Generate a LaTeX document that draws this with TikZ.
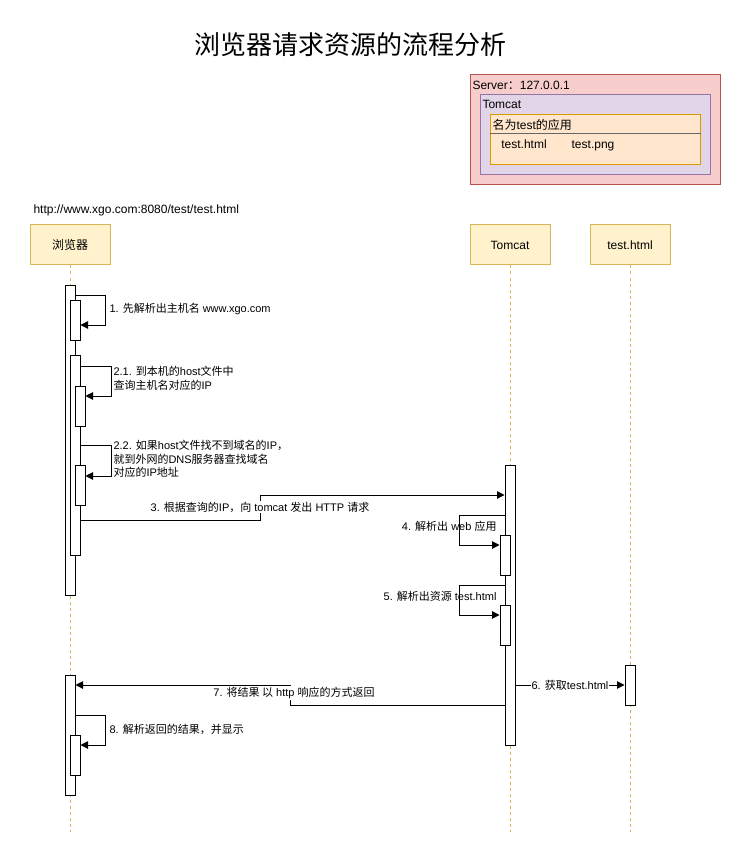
\documentclass[tikz,border=0pt]{standalone}
\usepackage{fontspec}
\setmainfont{Liberation Sans}
\newfontfamily\zh{Noto Sans CJK SC}
\usetikzlibrary{arrows.meta}
\definecolor{headfill}{HTML}{FFF2CC}
\definecolor{headline}{HTML}{D6B656}
\definecolor{srvfill}{HTML}{F8CECC}
\definecolor{srvline}{HTML}{B85450}
\definecolor{tomfill}{HTML}{E1D5E7}
\definecolor{tomline}{HTML}{9673A6}
\definecolor{appfill}{HTML}{FFE6CC}
\definecolor{appline}{HTML}{D79B00}
\definecolor{sepgray}{HTML}{666666}
\begin{document}
\begin{tikzpicture}[x=1pt, y=-1pt, line width=1pt,
		head/.style={draw=headline, fill=headfill, minimum width=80pt, minimum height=40pt, font=\fontsize{12}{14}\selectfont},
		box/.style={minimum width=10pt, inner sep=0pt},
		bar/.style={draw, fill=white, minimum width=10pt, inner sep=0pt},
		life/.style={draw=headline, dash pattern=on 3pt off 3pt},
		msg/.style={-{Triangle[length=7.5pt,width=7.5pt]}},
		txt/.style={inner sep=0pt, font=\fontsize{12}{14}\selectfont},
		lbl/.style={font=\fontsize{11}{14}\selectfont, inner sep=1pt, align=left}]
		
		\useasboundingbox (0,0) rectangle (751,866);
		
		\node[font=\fontsize{26}{30}\selectfont\zh] (title) at (350,45) {浏览器请求资源的流程分析};
		
		% server / tomcat / app
		\node[box, draw=srvline, fill=srvfill, minimum width=250pt, minimum height=110pt] (srv) at (595,130) {};
		\node[txt, anchor=west] (srvlbl) at (472,85) {Server{\zh ：}127.0.0.1};
		\node[box, draw=tomline, fill=tomfill, minimum width=230pt, minimum height=80pt] (tom) at (595,135) {};
		\node[txt, anchor=west] (tomlbl) at (482,104) {Tomcat};
		\node[box, draw=appline, fill=appfill, minimum width=210pt, minimum height=50pt] (app) at (595,140) {};
		\draw[sepgray] (app.west |- 0,134) -- (app.east |- 0,134);
		\node[txt, anchor=west] (applbl) at (492,125) {{\zh 名为}test{\zh 的应用}};
		\node[txt, anchor=base] (f1) at (524,149) {test.html};
		\node[txt, anchor=base] (f2) at (593,149) {test.png};
		
		\node[txt, anchor=west] (url) at (33,210) {http://www.xgo.com:8080/test/test.html};
		
		% lifelines
		\node[head] (hb) at (70,245) {\zh 浏览器};
		\node[head] (ht) at (510,245) {Tomcat};
		\node[head] (hh) at (630,245) {test.html};
		\draw[life] (hb.south) -- (hb.south |- 0,832);
		\draw[life] (ht.south) -- (ht.south |- 0,832);
		\draw[life] (hh.south) -- (hh.south |- 0,832);
		
		% browser bars
		\node[bar, minimum height=310pt] (b0) at (70,440) {};
		\node[bar, minimum height=40pt] (b1) at (75,320) {};
		\node[bar, minimum height=200pt] (b2) at (75,455) {};
		\node[bar, minimum height=40pt] (b21) at (80,406) {};
		\node[bar, minimum height=40pt] (b22) at (80,485) {};
		\node[bar, minimum height=120pt] (b3) at (70,735) {};
		\node[bar, minimum height=40pt] (b4) at (75,755) {};
		
		% tomcat and file bars
		\node[bar, minimum height=280pt] (t0) at (510,605) {};
		\node[bar, minimum height=40pt] (t1) at (505,555) {};
		\node[bar, minimum height=40pt] (t2) at (505,625) {};
		\node[bar, minimum height=40pt] (h0) at (630,685) {};
		
		% messages
		\draw[msg] (b0.east |- 0,295) -- ++(30,0) |- (b1.east |- 0,325);
		\node[lbl, anchor=west] (m1) at (108,309) {1. {\zh 先解析出主机名} www.xgo.com};
		
		\draw[msg] (b2.east |- 0,366) -- ++(31,0) |- (b21.east |- 0,396);
		\node[lbl, anchor=west] (m21) at (112,378) {2.1. {\zh 到本机的}host{\zh 文件中}\\{\zh 查询主机名对应的}IP};
		
		\draw[msg] (b2.east |- 0,445) -- ++(31,0) |- (b22.east |- 0,476);
		\node[lbl, anchor=west, font=\fontsize{11}{13.5}\selectfont] (m22) at (112,459) {2.2. {\zh 如果}host{\zh 文件找不到域名的}IP{\zh ，}\\{\zh 就到外网的}DNS{\zh 服务器查找域名}\\{\zh 对应的}IP{\zh 地址}};
		
		\draw[msg] (b2.east |- 0,520) -| (260,495) -- (t0.west |- 0,495);
		\node[lbl, fill=white] (m3) at (260,507) {3. {\zh 根据查询的}IP{\zh ，向} tomcat {\zh 发出} HTTP {\zh 请求}};
		
		\draw[msg] (t0.west |- 0,515) -- ++(-45,0) |- (t1.west |- 0,545);
		\node[lbl, anchor=east] (m4) at (498,526) {4. {\zh 解析出} web {\zh 应用}};
		
		\draw[msg] (t0.west |- 0,585) -- ++(-45,0) |- (t2.west |- 0,615);
		\node[lbl, anchor=east] (m5) at (498,596) {5. {\zh 解析出资源} test.html};
		
		\draw[msg] (t0.east |- 0,685) -- (h0.west |- 0,685) node[lbl, midway, fill=white] (m6) {6. {\zh 获取}test.html};
		
		\draw[msg] (t0.west |- 0,705) -| (290,685) -- (b3.east |- 0,685);
		\node[lbl, fill=white] (m7) at (294,693) {7. {\zh 将结果 以} http {\zh 响应的方式返回}};
		
		\draw[msg] (b3.east |- 0,715) -- ++(30,0) |- (b4.east |- 0,745);
		\node[lbl, anchor=west] (m8) at (108,729) {8. {\zh 解析返回的结果，并显示}};
		
\end{tikzpicture}
\end{document}
